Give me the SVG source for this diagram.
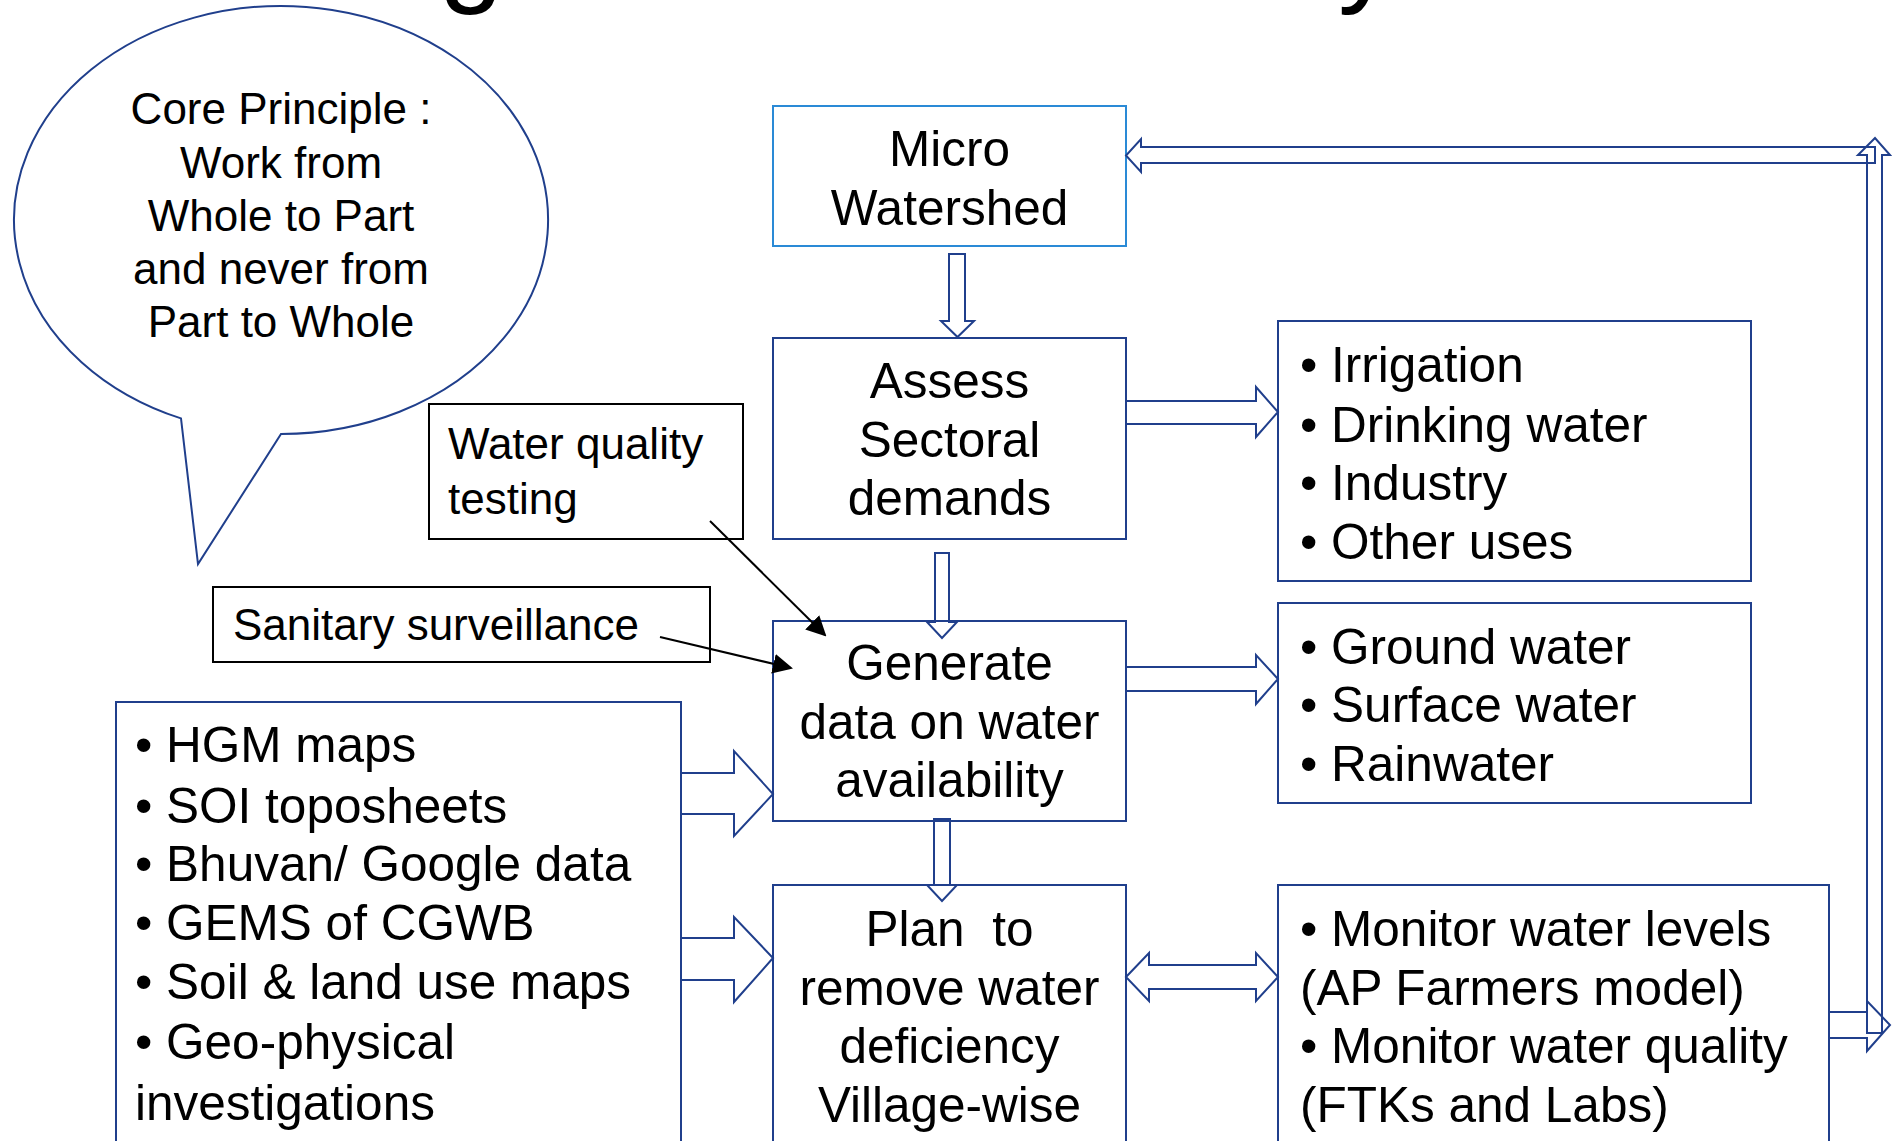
<svg xmlns="http://www.w3.org/2000/svg" width="1894" height="1141" viewBox="0 0 1894 1141">
  <style>
    text { font-family: "Liberation Sans", Arial, sans-serif; fill: #000; }
    .big { font-size: 49.5px; }
    .mid { font-size: 44px; }
    .title { font-size: 116px; }
    .c { text-anchor: middle; }
    .box { fill: #fff; stroke: #203f8c; stroke-width: 2; }
    .boxlight { fill: #fff; stroke: #2a8ad6; stroke-width: 2; }
    .boxblack { fill: #fff; stroke: #000; stroke-width: 2; }
    .block { fill: none; stroke: #203f8c; stroke-width: 2; stroke-linejoin: miter; }
    .pointer { stroke: #000; stroke-width: 2; fill: none; }
  </style>
  <defs>
    <marker id="tipLarge" viewBox="0 0 10 10" refX="9" refY="5" markerWidth="20" markerHeight="20" markerUnits="userSpaceOnUse" orient="auto">
      <path d="M0,0 L10,5 L0,10 Z" fill="#000"/>
    </marker>
  </defs>
  <rect width="1894" height="1141" fill="#fff"/>

  <!-- heading, mostly above the top edge -->
  <g id="heading">
    <text class="title" x="439" y="-9">g</text>
    <text class="title" x="1338" y="-9">y</text>
  </g>

  <!-- speech-bubble callout -->
  <g id="callout">
    <path d="M281,434 A267,214 0 1 0 181,418.4 L198,564 Z" fill="#fff" stroke="#203f8c" stroke-width="2"/>
    <text class="mid c" x="281" y="124">Core Principle :</text>
    <text class="mid c" x="281" y="178">Work from</text>
    <text class="mid c" x="281" y="231">Whole to Part</text>
    <text class="mid c" x="281" y="284">and never from</text>
    <text class="mid c" x="281" y="337">Part to Whole</text>
  </g>

  <g id="micro-watershed">
    <rect class="boxlight" x="773" y="106" width="353" height="140"/>
    <text class="big c" x="949.5" y="166">Micro</text>
    <text class="big c" x="949.5" y="225">Watershed</text>
  </g>

  <g id="assess-demands">
    <rect class="box" x="773" y="338" width="353" height="201"/>
    <text class="big c" x="949.5" y="398">Assess</text>
    <text class="big c" x="949.5" y="457">Sectoral</text>
    <text class="big c" x="949.5" y="515">demands</text>
  </g>

  <g id="sector-list">
    <rect class="box" x="1278" y="321" width="473" height="260"/>
    <text class="big" x="1300" y="382">• Irrigation</text>
    <text class="big" x="1300" y="442">• Drinking water</text>
    <text class="big" x="1300" y="500">• Industry</text>
    <text class="big" x="1300" y="559">• Other uses</text>
  </g>

  <g id="water-quality-testing">
    <rect class="boxblack" x="429" y="404" width="314" height="135"/>
    <text class="mid" x="448" y="459">Water quality</text>
    <text class="mid" x="448" y="514">testing</text>
  </g>

  <g id="sanitary-surveillance">
    <rect class="boxblack" x="213" y="587" width="497" height="75"/>
    <text class="mid" x="233" y="640">Sanitary surveillance</text>
  </g>

  <g id="generate-data">
    <rect class="box" x="773" y="621" width="353" height="200"/>
    <text class="big c" x="949.5" y="680">Generate</text>
    <text class="big c" x="949.5" y="739">data on water</text>
    <text class="big c" x="949.5" y="797">availability</text>
  </g>

  <g id="source-list">
    <rect class="box" x="1278" y="603" width="473" height="200"/>
    <text class="big" x="1300" y="664">• Ground water</text>
    <text class="big" x="1300" y="722">• Surface water</text>
    <text class="big" x="1300" y="781">• Rainwater</text>
  </g>

  <g id="data-inputs">
    <rect class="box" x="116" y="702" width="565" height="460"/>
    <text class="big" x="135" y="762">• HGM maps</text>
    <text class="big" x="135" y="823">• SOI toposheets</text>
    <text class="big" x="135" y="881">• Bhuvan/ Google data</text>
    <text class="big" x="135" y="940">• GEMS of CGWB</text>
    <text class="big" x="135" y="999">• Soil &amp; land use maps</text>
    <text class="big" x="135" y="1059">• Geo-physical</text>
    <text class="big" x="135" y="1120">investigations</text>
  </g>

  <g id="village-plan">
    <rect class="box" x="773" y="885" width="353" height="280"/>
    <text class="big c" x="949.5" y="946" xml:space="preserve">Plan  to</text>
    <text class="big c" x="949.5" y="1005">remove water</text>
    <text class="big c" x="949.5" y="1063">deficiency</text>
    <text class="big c" x="949.5" y="1122">Village-wise</text>
  </g>

  <g id="monitoring">
    <rect class="box" x="1278" y="885" width="551" height="280"/>
    <text class="big" x="1300" y="946">• Monitor water levels</text>
    <text class="big" x="1300" y="1005">(AP Farmers model)</text>
    <text class="big" x="1300" y="1063">• Monitor water quality</text>
    <text class="big" x="1300" y="1122">(FTKs and Labs)</text>
  </g>

  <g id="connectors">
    <!-- block arrows -->
    <path class="block" d="M949,254 H965 V321 H974 L957.5,337 L941,321 H949 Z"/>
    <path class="block" d="M935,553 H949 V622 H957 L942,638 L927,622 H935 Z"/>
    <path class="block" d="M934,819 H950 V885 H957 L942,901 L927,885 H934 Z"/>
    <path class="block" d="M1126,401 H1256 V387 L1278,412 L1256,437 V424 H1126 Z"/>
    <path class="block" d="M1126,667 H1256 V655 L1278,679 L1256,704 V691 H1126 Z"/>
    <path class="block" d="M681,773 H734 V751 L773,794 L734,836 V814 H681 Z"/>
    <path class="block" d="M681,938 H734 V917 L773,958 L734,1002 V980 H681 Z"/>
    <path class="block" d="M1126,977 L1149,953 V965 H1256 V953 L1278,977 L1256,1001 V989 H1149 V1001 Z"/>
    <!-- feedback loop back to the watershed -->
    <path class="block" d="M1829,1012 H1867 V1001 L1890,1025 L1867,1051 V1038 H1829 Z"/>
    <path class="block" d="M1867,1033 V155 H1858 L1875,138 L1890,155 H1882 V1033 Z"/>
    <path class="block" d="M1875,147 V163 H1141 V172 L1126,155.5 L1141,139 V147 Z"/>
    <!-- pointer lines -->
    <line class="pointer" x1="710" y1="521" x2="825" y2="635" marker-end="url(#tipLarge)"/>
    <line class="pointer" x1="660" y1="637" x2="791" y2="668" marker-end="url(#tipLarge)"/>
  </g>
</svg>
